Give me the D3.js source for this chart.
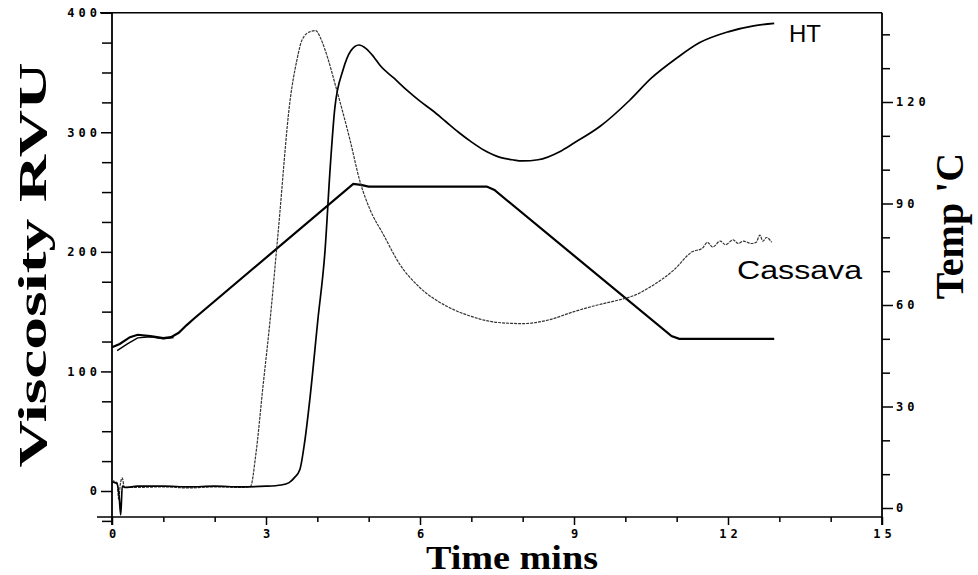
<!DOCTYPE html>
<html>
<head>
<meta charset="utf-8">
<script src="https://cdn.jsdelivr.net/npm/d3@7"></script>
<style>
  html, body { margin: 0; padding: 0; background: #fff; }
  svg { display: block; }
  .tick text { font-family: "DejaVu Sans Mono", monospace; font-weight: bold; font-size: 12px; letter-spacing: 4px; fill: #000; }
</style>
</head>
<body>
<svg id="chart" width="978" height="575"></svg>
<script>
// ---- data ----
const htTime = [0, 0.05, 0.1, 0.14, 0.17, 0.2, 0.25, 0.5, 1.0, 1.5, 2.0, 2.5, 3.0, 3.3, 3.45, 3.55, 3.66, 3.75, 3.86, 4.01, 4.15, 4.25, 4.34, 4.5, 4.65, 4.81, 4.95, 5.1, 5.22, 5.5, 5.75, 6.0, 6.25, 6.5, 6.75, 7.0, 7.25, 7.56, 7.8, 8.0, 8.3, 8.73, 9.0, 9.51, 10.09, 10.5, 11.0, 11.45, 12.0, 12.5, 12.9];
const htVisc = [7.5, 7, 6, -5, -20, 4, 3, 4, 4, 3.5, 4, 3.5, 4, 5, 7, 11, 18, 40, 79, 143, 201, 270, 320, 352, 368, 373, 370, 363, 356, 345, 335, 326, 318, 309, 300, 292, 285, 279, 277, 276, 277, 284, 291, 305, 327, 345, 362, 375, 384, 389, 391];

const casTime = [0, 0.05, 0.1, 0.13, 0.16, 0.2, 0.24, 0.5, 1.0, 1.5, 2.0, 2.5, 2.7, 2.8, 2.94, 3.08, 3.24, 3.47, 3.6, 3.7, 3.85, 3.97, 4.05, 4.15, 4.38, 4.64, 4.83, 5.03, 5.28, 5.6, 6.0, 6.5, 7.0, 7.5, 8.0, 8.5, 9.0, 9.5, 9.9, 10.2, 10.5, 10.95, 11.3, 11.5, 11.6, 11.7, 11.85, 11.95, 12.1, 12.2, 12.3, 12.45, 12.55, 12.62, 12.68, 12.75, 12.85];
const casVisc = [9, 8, 7, -7, 5, 11, 3, 3, 3.5, 2.5, 3.5, 3, 4, 30, 87, 143, 218, 327, 360, 377, 384, 385, 380, 369, 335, 293, 259, 235, 215, 190, 170, 155, 146, 141, 140, 143, 150, 156, 160, 164, 171, 185, 200, 203, 208, 204, 209, 206, 210, 207, 209, 207, 208, 214, 209, 212, 208];

const tempTime = [0, 0.15, 0.35, 0.5, 0.75, 1.0, 1.15, 1.3, 1.45, 1.6, 4.7, 4.85, 5.0, 7.3, 7.45, 10.9, 11.05, 12.9];
const tempC    = [47.5, 48.5, 50.5, 51.2, 50.8, 50.2, 50.5, 51.8, 54, 56, 95.8, 95.5, 95, 95, 94, 50.8, 50, 50];

const temp2Time = [0.1, 0.3, 0.5, 0.75, 1.0, 1.2];
const temp2C    = [46.5, 48.5, 50.3, 50.6, 50.0, 50.4];

const timeMajor = [0, 3, 6, 9, 12, 15];
const timeMinor = [1, 2, 4, 5, 7, 8, 10, 11, 13, 14];
const viscMajor = [0, 100, 200, 300, 400];
const viscMinor = [25, 50, 75, 125, 150, 175, 225, 250, 275, 325, 350, 375, -25];
const tempMajor = [0, 30, 60, 90, 120];
const tempMinor = [10, 20, 40, 50, 70, 80, 100, 110, 130, 140];

// ---- layout ----
const svg = d3.select("#chart");
const x = d3.scaleLinear().domain([0, 15]).range([112, 882]);
const yL = d3.scaleLinear().domain([0, 400]).range([491, 12.7]);
const yR = d3.scaleLinear().domain([0, 120]).range([508, 102]);
const yBottom = 517;
const yTop = 12.7;

// frame lines
svg.append("line").attr("x1", 100).attr("x2", 882).attr("y1", yTop).attr("y2", yTop)
  .attr("stroke", "#000").attr("stroke-width", 1.6);
svg.append("line").attr("x1", 97).attr("x2", 882).attr("y1", yBottom).attr("y2", yBottom)
  .attr("stroke", "#000").attr("stroke-width", 1.6);
svg.append("line").attr("x1", 112).attr("x2", 112).attr("y1", yTop).attr("y2", yBottom + 8)
  .attr("stroke", "#000").attr("stroke-width", 1.8);
svg.append("line").attr("x1", 882).attr("x2", 882).attr("y1", yTop).attr("y2", yBottom + 8)
  .attr("stroke", "#000").attr("stroke-width", 1.8);

// left axis
const gL = svg.append("g").attr("transform", "translate(112,0)");
gL.call(d3.axisLeft(yL).tickValues(viscMajor).tickSize(11).tickPadding(0).tickFormat(d3.format("d")));
gL.append("g").call(d3.axisLeft(yL).tickValues(viscMinor).tickSize(10).tickFormat(""));
gL.selectAll(".domain").remove();
gL.selectAll(".tick line").attr("stroke", "#000").attr("stroke-width", 1.5);

// right axis
const gR = svg.append("g").attr("transform", "translate(882,0)");
gR.call(d3.axisRight(yR).tickValues(tempMajor).tickSize(11).tickPadding(3).tickFormat(d3.format("d")));
gR.append("g").call(d3.axisRight(yR).tickValues(tempMinor).tickSize(8).tickFormat(""));
gR.selectAll(".domain").remove();
gR.selectAll(".tick line").attr("stroke", "#000").attr("stroke-width", 1.5);

// bottom axis
const gB = svg.append("g").attr("transform", `translate(0,${yBottom})`);
gB.call(d3.axisBottom(x).tickValues(timeMajor).tickSize(8).tickPadding(4).tickFormat(d3.format("d")));
gB.append("g").call(d3.axisBottom(x).tickValues(timeMinor).tickSize(5).tickFormat(""));
gB.selectAll(".domain").remove();
gB.selectAll(".tick line").attr("stroke", "#000").attr("stroke-width", 1.5);
gB.selectAll(".tick text").attr("dx", "2px");

// lines
const lineV = d3.line().x(d => x(d[0])).y(d => yL(d[1])).curve(d3.curveMonotoneX);
const lineT = d3.line().x(d => x(d[0])).y(d => yR(d[1]));

svg.append("path").datum(d3.zip(tempTime, tempC)).attr("d", lineT)
  .attr("fill", "none").attr("stroke", "#000").attr("stroke-width", 2.2);
svg.append("path").datum(d3.zip(temp2Time, temp2C)).attr("d", lineT)
  .attr("fill", "none").attr("stroke", "#000").attr("stroke-width", 1.4);

svg.append("path").datum(d3.zip(casTime, casVisc)).attr("d", lineV)
  .attr("fill", "none").attr("stroke", "#333").attr("stroke-width", 1.2)
  .attr("stroke-dasharray", "3,1");
svg.append("path").datum(d3.zip(htTime, htVisc)).attr("d", lineV)
  .attr("fill", "none").attr("stroke", "#000").attr("stroke-width", 1.7);

// series labels
svg.append("text").attr("x", 789).attr("y", 42).text("HT")
  .attr("font-family", "Liberation Sans, Arial, sans-serif").attr("font-size", 24).attr("fill", "#000");
svg.append("text").attr("x", 737).attr("y", 279).text("Cassava")
  .attr("font-family", "Liberation Sans, Arial, sans-serif").attr("font-size", 26)
  .attr("textLength", 125).attr("lengthAdjust", "spacingAndGlyphs").attr("fill", "#000");

// axis titles
svg.append("text").attr("transform", "translate(46,265) rotate(-90)")
  .attr("text-anchor", "middle").text("Viscosity RVU")
  .attr("font-family", "Liberation Serif, serif").attr("font-weight", "bold").attr("font-size", 40)
  .attr("textLength", 405).attr("lengthAdjust", "spacingAndGlyphs").attr("fill", "#000");
svg.append("text").attr("transform", "translate(963,226) rotate(-90)")
  .attr("text-anchor", "middle").text("Temp 'C")
  .attr("font-family", "Liberation Serif, serif").attr("font-weight", "bold").attr("font-size", 40)
  .attr("fill", "#000");
svg.append("text").attr("x", 512).attr("y", 569)
  .attr("text-anchor", "middle").text("Time mins")
  .attr("font-family", "Liberation Serif, serif").attr("font-weight", "bold").attr("font-size", 34)
  .attr("textLength", 172).attr("lengthAdjust", "spacingAndGlyphs").attr("fill", "#000");
</script>
</body>
</html>
